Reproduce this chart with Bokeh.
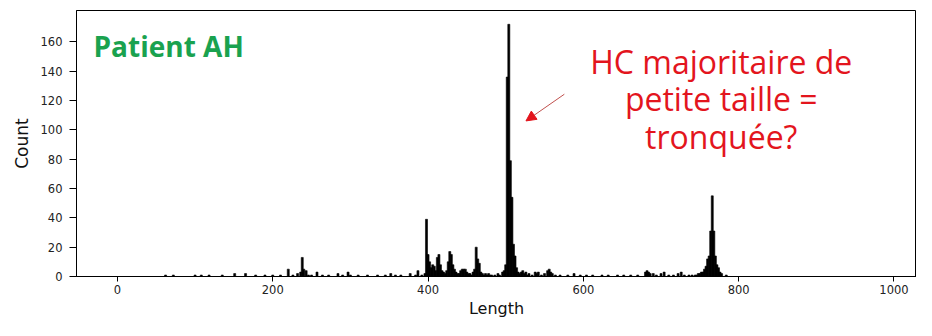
from bokeh.plotting import figure
from bokeh.models import Range1d, FixedTicker, Label, Arrow, NormalHead
from bokeh.embed import file_html
from bokeh.resources import INLINE

# Histogram bins (bin centre, length) and counts
lengths = [62, 72, 100, 108, 118, 135, 151, 165, 178, 190, 200, 210, 220, 226, 232, 236, 238, 240, 243, 246,
           250, 257, 264, 272, 284, 290, 297, 300, 310, 322, 335, 345, 352, 358, 365, 377, 384, 387, 392, 396,
           398, 400, 402, 404, 406, 408, 410, 412, 414, 416, 418, 420, 422, 424, 426, 428, 430, 432, 434, 436,
           438, 440, 442, 444, 446, 448, 450, 452, 454, 456, 458, 460, 462, 464, 466, 468, 470, 472, 474, 476,
           478, 480, 482, 486, 490, 492, 496, 498, 500, 502, 504, 506, 508, 510, 512, 514, 516, 518, 520, 522,
           524, 526, 528, 530, 534, 538, 540, 542, 546, 550, 554, 556, 558, 560, 564,
           570, 580, 588, 596, 604, 612, 624, 632, 644, 652, 661, 670, 680, 682, 684, 686, 690, 694, 700, 704,
           710, 716, 722, 726, 730, 736, 740, 744, 746, 748,
           750, 752, 754, 756, 758, 760, 762, 764, 766, 768, 770, 772, 774, 776, 778, 784]
counts = [1, 1, 1, 1, 1, 1, 2, 2, 1, 1, 1, 1, 5, 1, 2, 3, 13, 5, 4, 1,
          1, 3, 1, 1, 2, 1, 3, 1, 1, 1, 1, 1, 2, 1, 1, 2, 1, 4, 1, 2,
          39, 15, 10, 6, 8, 7, 4, 13, 15, 8, 4, 3, 2, 4, 10, 17, 15, 8, 5, 3,
          2, 2, 4, 5, 5, 5, 3, 2, 2, 1, 3, 5, 20, 12, 9, 3, 2, 1, 2, 1,
          2, 1, 1, 1, 2, 1, 3, 4, 8, 136, 172, 79, 54, 22, 14, 6, 3, 2, 3, 4,
          2, 3, 1, 2, 1, 3, 2, 3, 1, 2, 4, 5, 3, 2, 1,
          1, 1, 2, 1, 1, 1, 1, 1, 1, 1, 1, 1, 3, 4, 3, 2, 2, 1, 2, 3,
          1, 1, 2, 3, 1, 1, 1, 1, 1, 2,
          2, 3, 3, 5, 7, 12, 14, 31, 55, 31, 14, 8, 6, 3, 2, 1]

x_ticks = [0, 200, 400, 600, 800, 1000]
y_ticks = [0, 20, 40, 60, 80, 100, 120, 140, 160]

title_text = "Patient AH"
note_lines = ["HC majoritaire de", "petite taille =", "tronquée?"]

p = figure(width=916, height=320, output_backend="svg", toolbar_location=None,
           x_range=Range1d(-52.7, 1029), y_range=Range1d(0, 181.4),
           min_border_left=76, min_border_right=0, min_border_top=10, min_border_bottom=43)

p.vbar(x=lengths, top=counts, width=2.6, bottom=0,
       fill_color="black", line_color="black", line_width=0.6)

p.xgrid.visible = False
p.ygrid.visible = False
p.outline_line_color = "black"
p.outline_line_width = 1
p.background_fill_color = "white"
p.border_fill_color = "white"

for ax in (p.xaxis[0], p.yaxis[0]):
    ax.axis_line_color = "black"
    ax.major_tick_line_color = "black"
    ax.major_tick_in = 0
    ax.minor_tick_line_color = None
    ax.major_label_text_font = "DejaVu Sans"
    ax.major_label_text_font_size = "11.5px"
    ax.major_label_text_color = "#222222"
    ax.axis_label_text_font = "DejaVu Sans"
    ax.axis_label_text_font_style = "normal"
    ax.axis_label_text_color = "#111111"

p.xaxis.ticker = FixedTicker(ticks=x_ticks)
p.yaxis.ticker = FixedTicker(ticks=y_ticks)
p.xaxis.major_tick_out = 5
p.yaxis.major_tick_out = 7
p.xaxis.major_label_standoff = 3
p.yaxis.major_label_standoff = 7
p.xaxis.axis_label = "Length"
p.yaxis.axis_label = "Count"
p.xaxis.axis_label_text_font_size = "16px"
p.yaxis.axis_label_text_font_size = "17px"
p.xaxis.axis_label_standoff = 2
p.yaxis.axis_label_standoff = 6

p.add_layout(Label(x=-30.8, y=156.9, text=title_text, text_font="Open Sans",
                   text_font_style="bold", text_font_size="28px", text_color="#1aa24f",
                   text_baseline="alphabetic", text_align="left"))

for line, yy in zip(note_lines, [146.7, 121.5, 95.7]):
    p.add_layout(Label(x=777.6, y=yy, text=line, text_font="Open Sans",
                       text_font_size="32px", text_color="#e3151d",
                       text_baseline="alphabetic", text_align="center"))

p.add_layout(Arrow(x_start=575.5, y_start=124.3, x_end=526.1, y_end=106.1,
                   line_color="#c0504d", line_width=1,
                   end=NormalHead(size=10, fill_color="#e3151d", line_color="#e3151d")))

open("out.html", "w").write(file_html(p, INLINE))
